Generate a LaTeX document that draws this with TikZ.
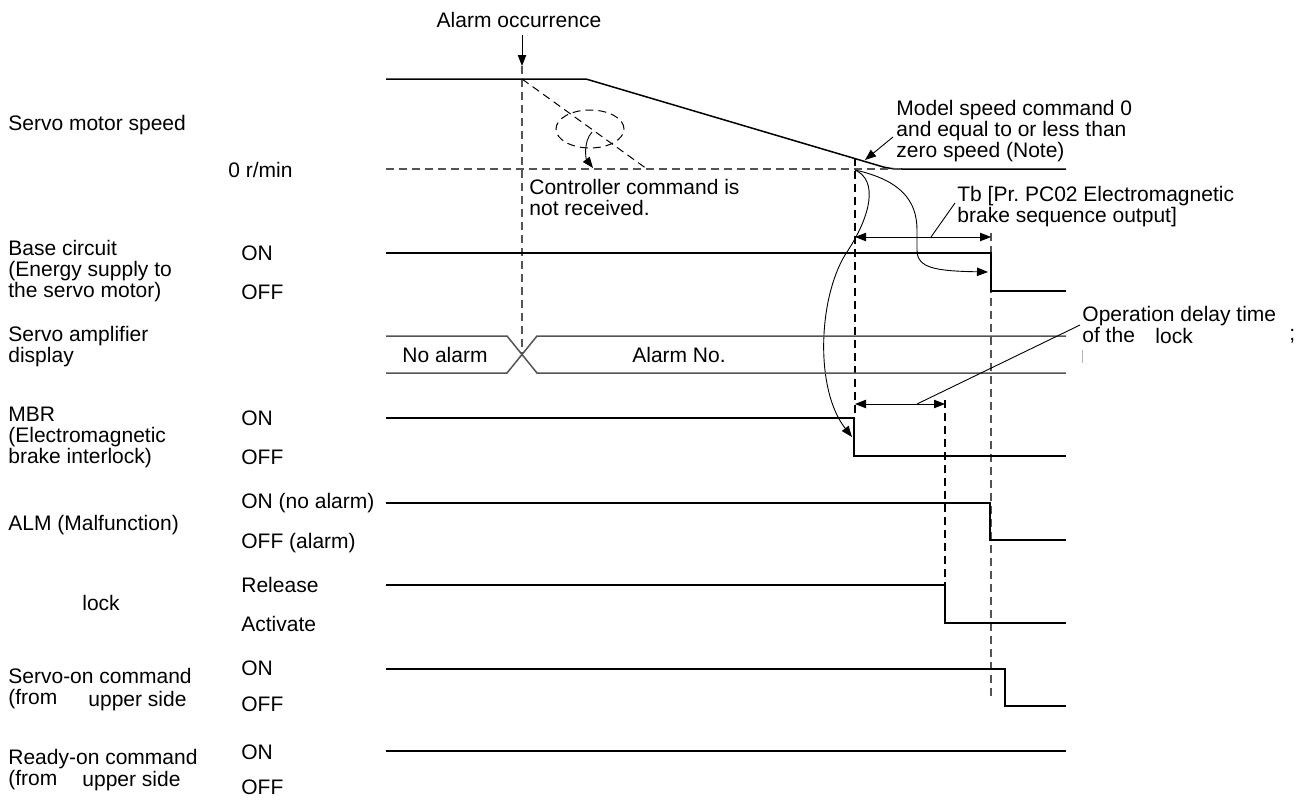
\documentclass[tikz,border=0pt]{standalone}
\usepackage{fontspec}
\setmainfont{Liberation Sans}
\usepackage{xcolor}
\usetikzlibrary{arrows.meta,positioning,shapes.geometric}
\definecolor{dimline}{gray}{0.33}
\frenchspacing

\begin{document}
\begin{tikzpicture}[x=0.5pt,y=-0.5pt,font=\fontsize{10.5}{10.5}\selectfont,>={Triangle[length=5.5pt,width=4.2pt]},
  lbl/.style={anchor=west,align=left,inner sep=0pt},
  lvl/.style={anchor=west,inner sep=0pt},
  wave/.style={line width=0.75pt},
  guide/.style={line width=0.6pt,dash pattern=on 4pt off 2.5pt},
  lead/.style={line width=0.45pt}]
\useasboundingbox (0,0) rectangle (1306,803);
% signal names
\node[lbl](nspeed) at (8,125){Servo motor speed};
\node[lbl](nbase) at (8,271){Base circuit\\(Energy supply to\\the servo motor)};
\node[lbl](ndisp) at (8,347){Servo amplifier\\display};
\node[lbl](nmbr) at (8,437){MBR\\(Electromagnetic\\brake interlock)};
\node[lbl](nalm) at (8,525){ALM (Malfunction)};
\node[lbl](nlock) at (82,603){lock};
\node[lbl](nson) at (8,689){Servo-on command\\(from};
\node[lbl](nsonb) at (88,701){upper side};
\node[lbl](nrdy) at (8,770){Ready-on command\\(from};
\node[lbl](nrdyb) at (82,781){upper side};
% levels
\node[lvl](lzero) at (228,170){0 r/min};
\node[lvl](lbon) at (241,253){ON};
\node[lvl](lboff) at (241,292){OFF};
\node[lvl](lmon) at (241,418){ON};
\node[lvl](lmoff) at (241,457){OFF};
\node[lvl](laon) at (241,503){ON (no alarm)};
\node[lvl](laoff) at (241,543){OFF (alarm)};
\node[lvl](lrel) at (241,585){Release};
\node[lvl](lact) at (241,624){Activate};
\node[lvl](lson) at (241,668){ON};
\node[lvl](lsoff) at (241,704){OFF};
\node[lvl](lron) at (241,752){ON};
\node[lvl](lroff) at (241,787){OFF};
% time marks
\coordinate(talm) at (522,66);
\coordinate(tzero) at (855,170);
\coordinate(tmbr) at (852,437);
\coordinate(tbase) at (988,272);
\coordinate(tnocmd) at (593,168);
\coordinate(tzspd) at (865,160);
% alarm occurrence
\node(nocc) at (519,20){Alarm occurrence};
\draw[->,lead](nocc.south -| talm)--(talm);
\draw[guide,dimline](talm)--(522,354);
% servo motor speed
\draw[wave](386,79)--(586,79)--(880,166) .. controls (888,168.5) and (894,169) .. (902,169)--(1066,169);
\draw[guide,dimline](386,169)--(902,169);
\draw[guide,line width=0.5pt](522,79)--(647,169);
\node[ellipse,draw,guide,line width=0.5pt,minimum width=34pt,minimum height=19pt,inner sep=0pt](cmdloop) at (590,129){};
\draw[->,lead]([shift={(2,3)}]cmdloop.center) .. controls +(-9,10) and +(-7,-9) .. (tnocmd);
\node[lbl](ncmd) at (529,197){Controller command is\\not received.};
\node[lbl](nnote) at (896,131){Model speed command 0\\and equal to or less than\\zero speed (Note)};
\draw[->,lead]([shift={(-3,6)}]nnote.west)--(tzspd);
% brake sequence
\draw[guide](855,158)--(855,418);
\draw[->,lead](tzero) .. controls (878,180) and (872,215) .. (845,255) .. controls (818,300) and (815,390) .. (tmbr);
\draw[->,lead](tzero) .. controls (900,180) and (917,200) .. (917,230)--(917,250) .. controls (917,268) and (935,271) .. (tbase);
\draw[guide,dimline](991,233)--(991,700);
\draw[<->,lead](855,237)--(991,237);
\node[lbl](ntb) at (957,207){Tb [Pr. PC02 Electromagnetic\\brake sequence output]};
\draw[lead](931,237)--([shift={(-2,-4)}]ntb.west);
% base circuit
\draw[wave](386,253)--(991,253)--(991,291)--(1066,291);
% display
\draw[wave,dimline](386,336)--(507,336)--(537,373)--(1066,373);
\draw[wave,dimline](386,373)--(507,373)--(537,336)--(1066,336);
\node(nnoalm) at (445,355){No alarm};
\node(nalmno) at (679,355){Alarm No.};
% MBR
\draw[wave](386,418)--(854,418)--(854,456)--(1066,456);
\draw[<->,lead](855,404)--(945,404);
\draw[guide](945,400)--(945,585);
\node[lbl](nopd) at (1082,324){Operation delay time\\of the};
\node[lvl](nopdb) at (1155,336){lock};
\node[lvl](nsemi) at (1289,336){;};
\draw[lead](917,404)--([shift={(-2,1)}]nopd.west);
\draw[lead,gray!60](1082,350)--(1082,363);
% ALM, lock, commands
\draw[wave](386,503)--(990,503)--(990,540)--(1066,540);
\draw[wave](386,585)--(945,585)--(945,623)--(1066,623);
\draw[wave](386,669)--(1005,669)--(1005,706)--(1066,706);
\draw[wave](386,751)--(1066,751);
\end{tikzpicture}
\end{document}
